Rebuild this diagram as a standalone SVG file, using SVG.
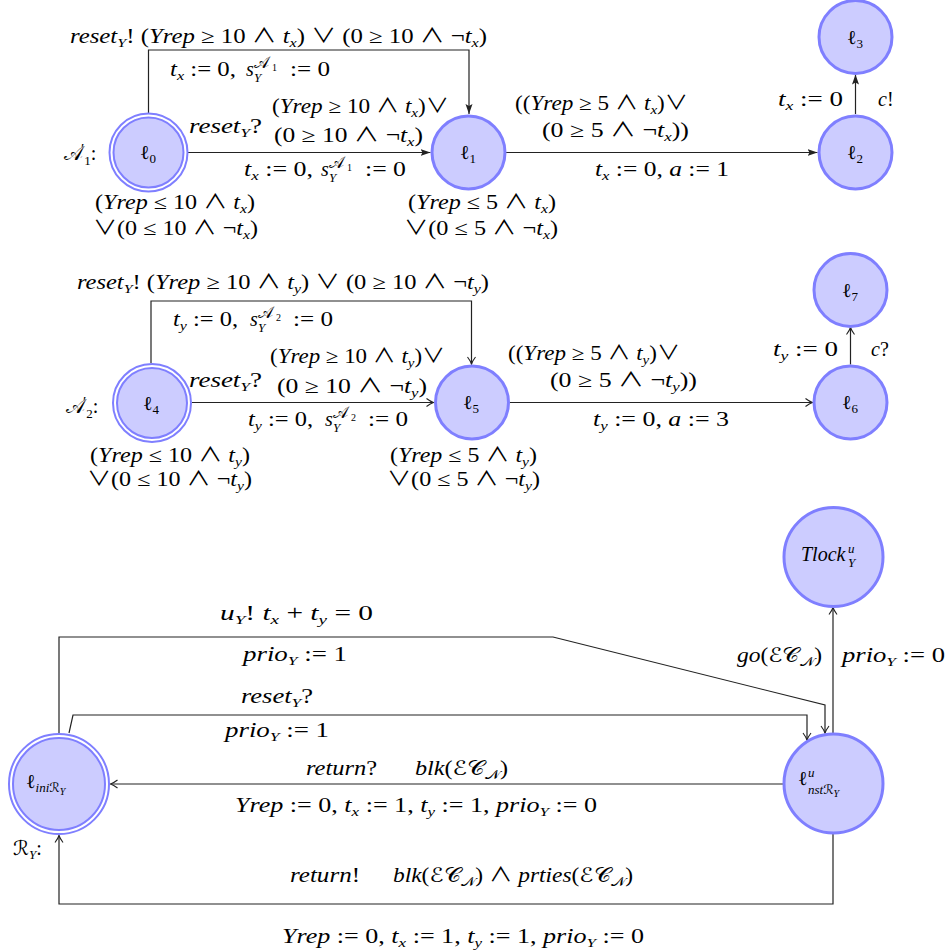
<svg xmlns="http://www.w3.org/2000/svg" width="949" height="951" viewBox="0 0 949 951">
<style>
.t{font-family:"Liberation Serif","Noto Sans CJK JP","DejaVu Sans",serif;font-size:20px;fill:#000}
.sc{font-family:"DejaVu Serif","DejaVu Sans",serif}
.i{font-style:italic}
.s{font-size:13px}
.sa{font-size:16px}
.ss{font-size:10px}
.nd{fill:#ccccff;stroke:#7f7fff;stroke-width:3}
.ndo{fill:#fff;stroke:#7f7fff;stroke-width:2}
.ndi{fill:#ccccff;stroke:#7f7fff;stroke-width:2}
.e{fill:none;stroke:#222;stroke-width:1.2}
.ef{marker-end:url(#fa)}
.eo{marker-end:url(#oa)}
</style>
<defs>
<marker id="fa" markerUnits="userSpaceOnUse" markerWidth="10" markerHeight="8" viewBox="0 0 10 8" refX="10" refY="4" orient="auto"><path d="M0,0.5 L10,4 L0,7.5 L2,4 z" fill="#222"/></marker>
<marker id="oa" markerUnits="userSpaceOnUse" markerWidth="10" markerHeight="10" viewBox="-1 -5 10 10" refX="7" refY="0" orient="auto"><path d="M0,-4 Q4,-1 7,0 Q4,1 0,4" fill="none" stroke="#222" stroke-width="1.1"/></marker>
</defs>

<g id="edges">
<path class="e ef" d="M148.5,113 V50 H469 V114"/>
<path class="e ef" d="M188,152.5 H430.5"/>
<path class="e ef" d="M506,152.5 H817.5"/>
<path class="e ef" d="M855.5,114 V74.5"/>
<path class="e eo" d="M151,363 V301 H471.5 V364"/>
<path class="e eo" d="M192,402.5 H433.5"/>
<path class="e eo" d="M510,402.5 H812.5"/>
<path class="e eo" d="M850.5,364.5 V327.5"/>
<path class="e eo" d="M59,733 V637 H553 L825,705 V733"/>
<path class="e eo" d="M69,733 L73,715 H807 V740"/>
<path class="e eo" d="M833,733.5 V607.5"/>
<path class="e eo" d="M783.5,784 H110.5"/>
<path class="e eo" d="M833,833.5 V904 H59 V835.5"/>
</g>

<g id="n0"><circle class="ndo" cx="148.5" cy="152.5" r="39"/><circle class="ndi" cx="148.5" cy="152.5" r="35"/><text class="t" x="148" y="159" text-anchor="middle">ℓ<tspan class="s" dy="4">0</tspan></text></g>
<g id="n1"><circle class="nd" cx="468.5" cy="152.5" r="36.5"/><text class="t" x="468" y="159" text-anchor="middle">ℓ<tspan class="s" dy="4">1</tspan></text></g>
<g id="n2"><circle class="nd" cx="855.5" cy="152.5" r="36.5"/><text class="t" x="855" y="159" text-anchor="middle">ℓ<tspan class="s" dy="4">2</tspan></text></g>
<g id="n3"><circle class="nd" cx="855.5" cy="37" r="36.5"/><text class="t" x="855" y="44" text-anchor="middle">ℓ<tspan class="s" dy="4">3</tspan></text></g>
<g id="n4"><circle class="ndo" cx="152" cy="403" r="39"/><circle class="ndi" cx="152" cy="403" r="35"/><text class="t" x="151" y="410" text-anchor="middle">ℓ<tspan class="s" dy="4">4</tspan></text></g>
<g id="n5"><circle class="nd" cx="472" cy="402.5" r="36.5"/><text class="t" x="471" y="409" text-anchor="middle">ℓ<tspan class="s" dy="4">5</tspan></text></g>
<g id="n6"><circle class="nd" cx="850.5" cy="402.5" r="36.5"/><text class="t" x="850" y="409" text-anchor="middle">ℓ<tspan class="s" dy="4">6</tspan></text></g>
<g id="n7"><circle class="nd" cx="850.5" cy="290" r="36.5"/><text class="t" x="850" y="297" text-anchor="middle">ℓ<tspan class="s" dy="4">7</tspan></text></g>
<g id="nTlock"><circle class="nd" cx="833.5" cy="557" r="49.5"/><text class="t i"><tspan x="801" y="561">Tlock</tspan><tspan class="s" x="848" y="553">u</tspan><tspan class="s" x="848" y="567">Y</tspan></text></g>
<g id="nNst"><circle class="nd" cx="833.5" cy="783.5" r="49.5"/><text class="t"><tspan x="798" y="785">ℓ</tspan><tspan class="s i" x="808" y="777">u</tspan><tspan class="s i" x="808" y="794">nst</tspan><tspan class="s sc">ℛ</tspan><tspan class="ss i" dy="3">Y</tspan></text></g>
<g id="nIni"><circle class="ndo" cx="59" cy="784" r="50"/><circle class="ndi" cx="59" cy="784" r="46"/><text class="t" x="26" y="788">ℓ<tspan class="s i" dy="4">ini</tspan><tspan class="s sc">ℛ</tspan><tspan class="ss i" dy="3">Y</tspan></text></g>

<g id="labels">
<text class="t" x="64" y="160"><tspan class="sc">𝒜</tspan><tspan font-size="15" dx="-2" dy="-6">′</tspan><tspan class="s" dy="11">1</tspan><tspan dy="-5">:</tspan></text>
<text class="t" x="70" y="43" textLength="417" lengthAdjust="spacingAndGlyphs"><tspan class="i">reset</tspan><tspan class="s i" dy="4">Y</tspan><tspan dy="-4">! (</tspan><tspan class="i">Yrep</tspan><tspan> ≥ 10 ∧ </tspan><tspan class="i">t</tspan><tspan class="s i" dy="4">x</tspan><tspan dy="-4">) ∨ (0 ≥ 10 ∧ ¬</tspan><tspan class="i">t</tspan><tspan class="s i" dy="4">x</tspan><tspan dy="-4">)</tspan></text>
<text class="t" x="170" y="76" textLength="66" lengthAdjust="spacingAndGlyphs"><tspan class="i">t</tspan><tspan class="s i" dy="4">x</tspan><tspan dy="-4"> := 0,</tspan></text>
<text class="t"><tspan class="i" x="246" y="76">s</tspan><tspan class="sa sc" x="254" y="68">𝒜</tspan><tspan class="ss" x="272" y="71">1</tspan><tspan class="s i" x="254" y="82">Y</tspan></text>
<text class="t" x="290" y="76" textLength="40" lengthAdjust="spacingAndGlyphs">:= 0</text>
<text class="t" x="272" y="113" textLength="177" lengthAdjust="spacingAndGlyphs">(<tspan class="i">Yrep</tspan> ≥ 10 ∧ <tspan class="i">t</tspan><tspan class="s i" dy="4">x</tspan><tspan dy="-4">)∨</tspan></text>
<text class="t" x="189" y="133" textLength="73" lengthAdjust="spacingAndGlyphs"><tspan class="i">reset</tspan><tspan class="s i" dy="4">Y</tspan><tspan dy="-4">?</tspan></text>
<text class="t" x="274" y="142" textLength="149" lengthAdjust="spacingAndGlyphs">(0 ≥ 10 ∧ ¬<tspan class="i">t</tspan><tspan class="s i" dy="4">x</tspan><tspan dy="-4">)</tspan></text>
<text class="t" x="244" y="176" textLength="69" lengthAdjust="spacingAndGlyphs"><tspan class="i">t</tspan><tspan class="s i" dy="4">x</tspan><tspan dy="-4"> := 0,</tspan></text>
<text class="t"><tspan class="i" x="321" y="176">s</tspan><tspan class="sa sc" x="329" y="168">𝒜</tspan><tspan class="ss" x="347" y="171">1</tspan><tspan class="s i" x="329" y="182">Y</tspan></text>
<text class="t" x="365" y="176" textLength="41" lengthAdjust="spacingAndGlyphs">:= 0</text>
<text class="t" x="95" y="209" textLength="160" lengthAdjust="spacingAndGlyphs">(<tspan class="i">Yrep</tspan> ≤ 10 ∧ <tspan class="i">t</tspan><tspan class="s i" dy="4">x</tspan><tspan dy="-4">)</tspan></text>
<text class="t" x="93" y="235" textLength="165" lengthAdjust="spacingAndGlyphs">∨(0 ≤ 10 ∧ ¬<tspan class="i">t</tspan><tspan class="s i" dy="4">x</tspan><tspan dy="-4">)</tspan></text>
<text class="t" x="408" y="209" textLength="148" lengthAdjust="spacingAndGlyphs">(<tspan class="i">Yrep</tspan> ≤ 5 ∧ <tspan class="i">t</tspan><tspan class="s i" dy="4">x</tspan><tspan dy="-4">)</tspan></text>
<text class="t" x="404" y="235" textLength="154" lengthAdjust="spacingAndGlyphs">∨(0 ≤ 5 ∧ ¬<tspan class="i">t</tspan><tspan class="s i" dy="4">x</tspan><tspan dy="-4">)</tspan></text>
<text class="t" x="515" y="110" textLength="173" lengthAdjust="spacingAndGlyphs">((<tspan class="i">Yrep</tspan> ≥ 5 ∧ <tspan class="i">t</tspan><tspan class="s i" dy="4">x</tspan><tspan dy="-4">)∨</tspan></text>
<text class="t" x="542" y="137" textLength="147" lengthAdjust="spacingAndGlyphs">(0 ≥ 5 ∧ ¬<tspan class="i">t</tspan><tspan class="s i" dy="4">x</tspan><tspan dy="-4">))</tspan></text>
<text class="t" x="595" y="176" textLength="134" lengthAdjust="spacingAndGlyphs"><tspan class="i">t</tspan><tspan class="s i" dy="4">x</tspan><tspan dy="-4"> := 0, </tspan><tspan class="i">a</tspan> := 1</text>
<text class="t" x="778" y="106" textLength="65" lengthAdjust="spacingAndGlyphs"><tspan class="i">t</tspan><tspan class="s i" dy="4">x</tspan><tspan dy="-4"> := 0</tspan></text>
<text class="t" x="878" y="106"><tspan class="i">c</tspan>!</text>

<text class="t" x="66" y="413"><tspan class="sc">𝒜</tspan><tspan font-size="15" dx="-2" dy="-6">′</tspan><tspan class="s" dy="11">2</tspan><tspan dy="-5">:</tspan></text>
<text class="t" x="77" y="289" textLength="412" lengthAdjust="spacingAndGlyphs"><tspan class="i">reset</tspan><tspan class="s i" dy="4">Y</tspan><tspan dy="-4">! (</tspan><tspan class="i">Yrep</tspan><tspan> ≥ 10 ∧ </tspan><tspan class="i">t</tspan><tspan class="s i" dy="4">y</tspan><tspan dy="-4">) ∨ (0 ≥ 10 ∧ ¬</tspan><tspan class="i">t</tspan><tspan class="s i" dy="4">y</tspan><tspan dy="-4">)</tspan></text>
<text class="t" x="173" y="326" textLength="65" lengthAdjust="spacingAndGlyphs"><tspan class="i">t</tspan><tspan class="s i" dy="4">y</tspan><tspan dy="-4"> := 0,</tspan></text>
<text class="t"><tspan class="i" x="250" y="326">s</tspan><tspan class="sa sc" x="258" y="318">𝒜</tspan><tspan class="ss" x="276" y="321">2</tspan><tspan class="s i" x="258" y="332">Y</tspan></text>
<text class="t" x="293" y="326" textLength="40" lengthAdjust="spacingAndGlyphs">:= 0</text>
<text class="t" x="270" y="363" textLength="175" lengthAdjust="spacingAndGlyphs">(<tspan class="i">Yrep</tspan> ≥ 10 ∧ <tspan class="i">t</tspan><tspan class="s i" dy="4">y</tspan><tspan dy="-4">)∨</tspan></text>
<text class="t" x="189" y="387" textLength="73" lengthAdjust="spacingAndGlyphs"><tspan class="i">reset</tspan><tspan class="s i" dy="4">Y</tspan><tspan dy="-4">?</tspan></text>
<text class="t" x="277" y="393" textLength="150" lengthAdjust="spacingAndGlyphs">(0 ≥ 10 ∧ ¬<tspan class="i">t</tspan><tspan class="s i" dy="4">y</tspan><tspan dy="-4">)</tspan></text>
<text class="t" x="248" y="426" textLength="65" lengthAdjust="spacingAndGlyphs"><tspan class="i">t</tspan><tspan class="s i" dy="4">y</tspan><tspan dy="-4"> := 0,</tspan></text>
<text class="t"><tspan class="i" x="325" y="426">s</tspan><tspan class="sa sc" x="333" y="418">𝒜</tspan><tspan class="ss" x="351" y="421">2</tspan><tspan class="s i" x="333" y="432">Y</tspan></text>
<text class="t" x="368" y="426" textLength="40" lengthAdjust="spacingAndGlyphs">:= 0</text>
<text class="t" x="90" y="462" textLength="160" lengthAdjust="spacingAndGlyphs">(<tspan class="i">Yrep</tspan> ≤ 10 ∧ <tspan class="i">t</tspan><tspan class="s i" dy="4">y</tspan><tspan dy="-4">)</tspan></text>
<text class="t" x="87" y="486" textLength="165" lengthAdjust="spacingAndGlyphs">∨(0 ≤ 10 ∧ ¬<tspan class="i">t</tspan><tspan class="s i" dy="4">y</tspan><tspan dy="-4">)</tspan></text>
<text class="t" x="390" y="462" textLength="147" lengthAdjust="spacingAndGlyphs">(<tspan class="i">Yrep</tspan> ≤ 5 ∧ <tspan class="i">t</tspan><tspan class="s i" dy="4">y</tspan><tspan dy="-4">)</tspan></text>
<text class="t" x="387" y="486" textLength="153" lengthAdjust="spacingAndGlyphs">∨(0 ≤ 5 ∧ ¬<tspan class="i">t</tspan><tspan class="s i" dy="4">y</tspan><tspan dy="-4">)</tspan></text>
<text class="t" x="508" y="360" textLength="172" lengthAdjust="spacingAndGlyphs">((<tspan class="i">Yrep</tspan> ≥ 5 ∧ <tspan class="i">t</tspan><tspan class="s i" dy="4">y</tspan><tspan dy="-4">)∨</tspan></text>
<text class="t" x="550" y="387" textLength="147" lengthAdjust="spacingAndGlyphs">(0 ≥ 5 ∧ ¬<tspan class="i">t</tspan><tspan class="s i" dy="4">y</tspan><tspan dy="-4">))</tspan></text>
<text class="t" x="593" y="426" textLength="136" lengthAdjust="spacingAndGlyphs"><tspan class="i">t</tspan><tspan class="s i" dy="4">y</tspan><tspan dy="-4"> := 0, </tspan><tspan class="i">a</tspan> := 3</text>
<text class="t" x="773" y="356" textLength="65" lengthAdjust="spacingAndGlyphs"><tspan class="i">t</tspan><tspan class="s i" dy="4">y</tspan><tspan dy="-4"> := 0</tspan></text>
<text class="t" x="871" y="356"><tspan class="i">c</tspan>?</text>

<text class="t" x="220" y="620" textLength="153" lengthAdjust="spacingAndGlyphs"><tspan class="i">u</tspan><tspan class="s i" dy="4">Y</tspan><tspan dy="-4">!  </tspan><tspan class="i">t</tspan><tspan class="s i" dy="4">x</tspan><tspan dy="-4"> + </tspan><tspan class="i">t</tspan><tspan class="s i" dy="4">y</tspan><tspan dy="-4"> = 0</tspan></text>
<text class="t" x="243" y="661" textLength="104" lengthAdjust="spacingAndGlyphs"><tspan class="i">prio</tspan><tspan class="s i" dy="4">Y</tspan><tspan dy="-4"> := 1</tspan></text>
<text class="t" x="241" y="703" textLength="72" lengthAdjust="spacingAndGlyphs"><tspan class="i">reset</tspan><tspan class="s i" dy="4">Y</tspan><tspan dy="-4">?</tspan></text>
<text class="t" x="225" y="737" textLength="104" lengthAdjust="spacingAndGlyphs"><tspan class="i">prio</tspan><tspan class="s i" dy="4">Y</tspan><tspan dy="-4"> := 1</tspan></text>
<text class="t" x="306" y="775" textLength="71" lengthAdjust="spacingAndGlyphs"><tspan class="i">return</tspan>?</text>
<text class="t" x="415" y="775" textLength="93" lengthAdjust="spacingAndGlyphs"><tspan class="i">blk</tspan>(<tspan class="sc">ℰ𝒞</tspan><tspan class="s sc" dy="4">𝒩</tspan><tspan dy="-4">)</tspan></text>
<text class="t" x="235" y="812" textLength="362" lengthAdjust="spacingAndGlyphs"><tspan class="i">Yrep</tspan> := 0, <tspan class="i">t</tspan><tspan class="s i" dy="4">x</tspan><tspan dy="-4"> := 1, </tspan><tspan class="i">t</tspan><tspan class="s i" dy="4">y</tspan><tspan dy="-4"> := 1, </tspan><tspan class="i">prio</tspan><tspan class="s i" dy="4">Y</tspan><tspan dy="-4"> := 0</tspan></text>
<text class="t" x="290" y="882" textLength="70" lengthAdjust="spacingAndGlyphs"><tspan class="i">return</tspan>!</text>
<text class="t" x="393" y="882" textLength="240" lengthAdjust="spacingAndGlyphs"><tspan class="i">blk</tspan>(<tspan class="sc">ℰ𝒞</tspan><tspan class="s sc" dy="4">𝒩</tspan><tspan dy="-4">) ∧ </tspan><tspan class="i">prties</tspan>(<tspan class="sc">ℰ𝒞</tspan><tspan class="s sc" dy="4">𝒩</tspan><tspan dy="-4">)</tspan></text>
<text class="t" x="282" y="943" textLength="362" lengthAdjust="spacingAndGlyphs"><tspan class="i">Yrep</tspan> := 0, <tspan class="i">t</tspan><tspan class="s i" dy="4">x</tspan><tspan dy="-4"> := 1, </tspan><tspan class="i">t</tspan><tspan class="s i" dy="4">y</tspan><tspan dy="-4"> := 1, </tspan><tspan class="i">prio</tspan><tspan class="s i" dy="4">Y</tspan><tspan dy="-4"> := 0</tspan></text>
<text class="t" x="737" y="662" textLength="85" lengthAdjust="spacingAndGlyphs"><tspan class="i">go</tspan>(<tspan class="sc">ℰ𝒞</tspan><tspan class="s sc" dy="4">𝒩</tspan><tspan dy="-4">)</tspan></text>
<text class="t" x="842" y="662" textLength="103" lengthAdjust="spacingAndGlyphs"><tspan class="i">prio</tspan><tspan class="s i" dy="4">Y</tspan><tspan dy="-4"> := 0</tspan></text>
<text class="t" x="13" y="855"><tspan class="sc">ℛ</tspan><tspan class="s i" dy="4">Y</tspan><tspan dy="-4">:</tspan></text>
</g>
</svg>
